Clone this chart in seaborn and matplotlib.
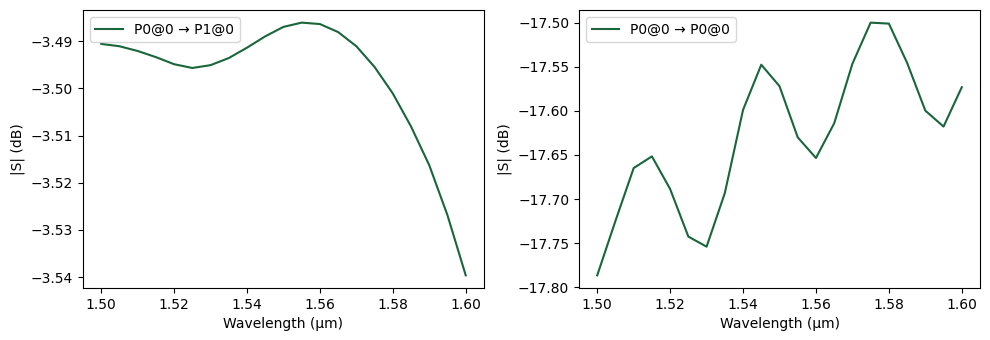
import numpy as np
import pandas as pd
import matplotlib
matplotlib.use("Agg")
import matplotlib.pyplot as plt
import seaborn as sns

wavelength = [1.500, 1.505, 1.510, 1.515, 1.520, 1.525, 1.530, 1.535, 1.540, 1.545,
              1.550, 1.555, 1.560, 1.565, 1.570, 1.575, 1.580, 1.585, 1.590, 1.595, 1.600]
s21_db = [-3.4906, -3.4911, -3.4921, -3.4934, -3.4949, -3.4957, -3.4951, -3.4936, -3.4914, -3.4890,
          -3.4870, -3.4861, -3.4864, -3.4881, -3.4911, -3.4955, -3.5011, -3.5081, -3.5163, -3.5269, -3.5396]
s11_db = [-17.7864, -17.7247, -17.6648, -17.6516, -17.6886, -17.7425, -17.7539, -17.6932, -17.5989, -17.5477,
          -17.5720, -17.6300, -17.6534, -17.6141, -17.5466, -17.5000, -17.5011, -17.5455, -17.5997, -17.6178, -17.5732]
labels = ["P0@0 \u2192 P1@0", "P0@0 \u2192 P0@0"]

color = "#18663a"

fig, axes = plt.subplots(1, 2, figsize=(9.9, 3.4), dpi=100)
for ax, vals, lab in zip(axes, [s21_db, s11_db], labels):
    df = pd.DataFrame({"wl": wavelength, "db": vals})
    sns.lineplot(data=df, x="wl", y="db", ax=ax, color=color, label=lab)
    ax.set_xlabel("Wavelength (\u03bcm)")
    ax.set_ylabel("|S| (dB)")
    ax.legend(loc="upper left")
    ax.set_xticks([1.50, 1.52, 1.54, 1.56, 1.58, 1.60])
axes[1].set_yticks([-17.80, -17.75, -17.70, -17.65, -17.60, -17.55, -17.50])
fig.subplots_adjust(left=0.0838, right=0.9899, top=0.9706, bottom=0.153, wspace=0.237)
fig.savefig("out.png", dpi=100)
